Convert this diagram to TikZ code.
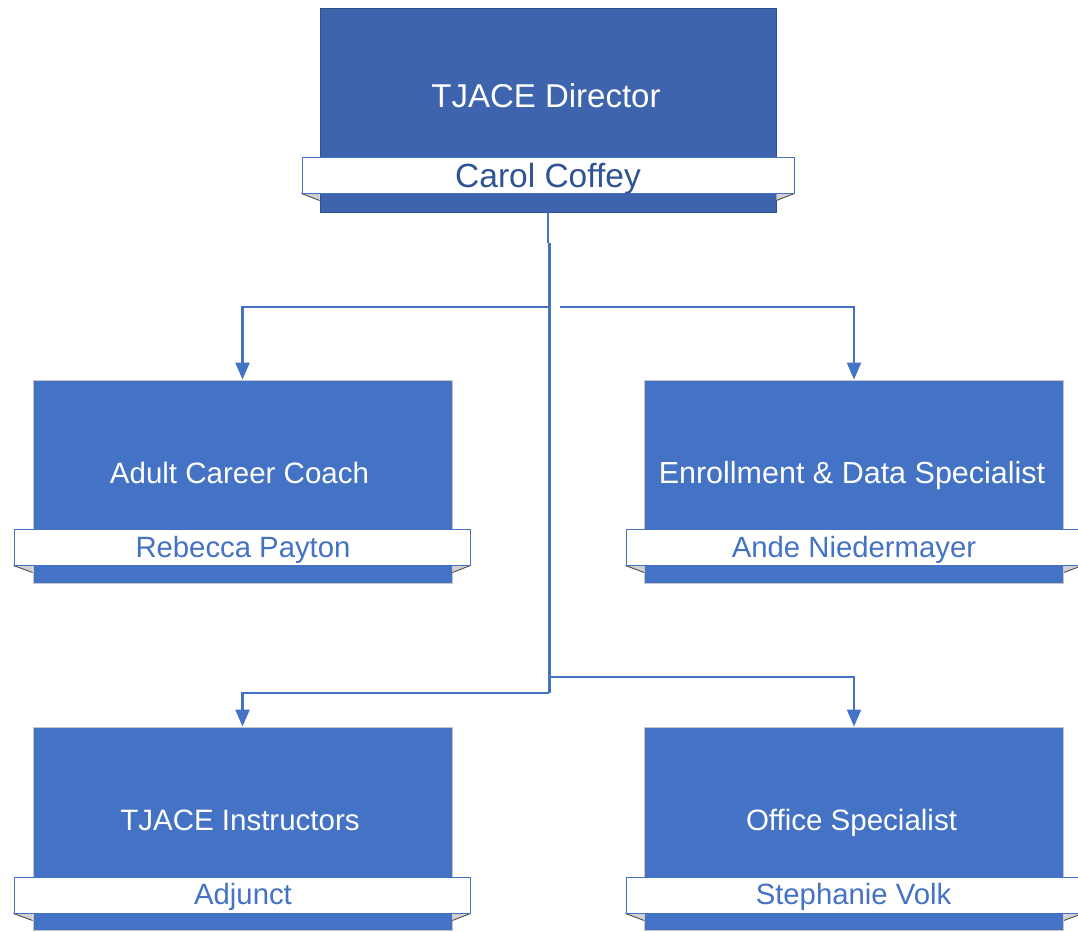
\documentclass[tikz,border=0pt]{standalone}
\usepackage{fontspec}
\setmainfont{Liberation Sans}
\usetikzlibrary{arrows.meta,calc}
\definecolor{topfill}{HTML}{3D64AD}
\definecolor{midfill}{HTML}{4472C4}
\definecolor{topname}{HTML}{2F5496}
\definecolor{linec}{HTML}{4472C4}
\definecolor{foldc}{HTML}{D0D0D0}
\tikzset{
  topbox/.style={rectangle, fill=topfill, draw=topfill!80!black, line width=0.8pt, minimum width=456pt, minimum height=204pt, inner sep=0pt},
  posbox/.style={rectangle, fill=midfill, draw=gray!45, line width=0.8pt, minimum width=419pt, minimum height=203pt, inner sep=0pt},
  ribbon/.style={rectangle, fill=white, draw=linec, line width=1pt, minimum height=36pt, inner sep=0pt},
  toptitle/.style={anchor=base, text=white, font=\fontsize{33}{40}\selectfont, inner sep=0pt},
  title/.style={anchor=base, text=white, font=\fontsize{29.5}{36}\selectfont, inner sep=0pt},
  topnm/.style={anchor=base, text=topname, font=\fontsize{33.5}{40}\selectfont, inner sep=0pt},
  nm/.style={anchor=base, text=midfill, font=\fontsize{29.3}{36}\selectfont, inner sep=0pt},
  fold/.style={fill=foldc, draw=none},
  foldedge/.style={draw=black!75, line width=0.8pt},
  conn/.style={draw=linec, line width=2.2pt},
  arr/.style={conn, -{Triangle[width=14pt,length=17pt]}},
}
\newcommand{\folds}[2]{%
  \fill[fold] (#2.south west) -- (#1.west |- #2.south) -- ($(#1.west |- #2.south)+(0,7)$) -- cycle;
  \draw[foldedge] (#2.south west) -- ($(#1.west |- #2.south)+(0,7)$);
  \fill[fold] (#2.south east) -- (#1.east |- #2.south) -- ($(#1.east |- #2.south)+(0,7)$) -- cycle;
  \draw[foldedge] (#2.south east) -- ($(#1.east |- #2.south)+(0,7)$);
}
\begin{document}
\begin{tikzpicture}[x=1pt,y=-1pt]
\useasboundingbox (0,0) rectangle (1078,931);
% boxes
\node[topbox] (dir) at (548,110) {};
\node[posbox] (acc) at (242.5,481.5) {};
\node[posbox] (eds) at (854,481.5) {};
\node[posbox] (ins) at (242.5,828.5) {};
\node[posbox] (ofs) at (854,828.5) {};
% ribbons
\node[ribbon, minimum width=492pt] (rdir) at (548,175) {};
\node[ribbon, minimum width=456pt] (racc) at (242,547) {};
\node[ribbon, minimum width=456pt] (reds) at (854,547) {};
\node[ribbon, minimum width=456pt] (rins) at (242,895) {};
\node[ribbon, minimum width=456pt] (rofs) at (854,895) {};
\folds{dir}{rdir}
\folds{acc}{racc}
\folds{eds}{reds}
\folds{ins}{rins}
\folds{ofs}{rofs}
% redraw ribbons on top of fold edges
\node[ribbon, minimum width=492pt] at (548,175) {};
\node[ribbon, minimum width=456pt] at (242,547) {};
\node[ribbon, minimum width=456pt] at (854,547) {};
\node[ribbon, minimum width=456pt] at (242,895) {};
\node[ribbon, minimum width=456pt] at (854,895) {};
% texts
\node[toptitle] (tdir) at (546,107) {TJACE Director};
\node[topnm] (ndir) at (548,187) {Carol Coffey};
\node[title] (tacc) at (239.5,483) {Adult Career Coach};
\node[title, font=\fontsize{30.5}{36}\selectfont] (teds) at (852,483) {Enrollment \& Data Specialist};
\node[nm] (neds) at (854,557) {Ande Niedermayer};
\node[nm] (nacc) at (243,557) {Rebecca Payton};
\node[title] (tins) at (240,830) {TJACE Instructors};
\node[nm] (nins) at (243,904) {Adjunct};
\node[title] (tofs) at (851.5,830) {Office Specialist};
\node[nm] (nofs) at (853.5,904) {Stephanie Volk};
% connectors
\coordinate (jog) at (548,243);
\coordinate (ja) at (549,307);
\coordinate (jb) at (560,307);
\coordinate (jc) at (549,677);
\coordinate (jd) at (549,693);
\draw[conn] (dir.south -| jog) -- (jog);
\draw[conn] ($(jog)+(1.5,0)$) -- ($(jd)+(0.5,0)$);
\draw[arr] (ja) -| (acc.north);
\draw[arr] (jb) -| (eds.north);
\draw[arr] (jc) -| (ofs.north);
\draw[arr] (jd) -| (ins.north);
\end{tikzpicture}
\end{document}
